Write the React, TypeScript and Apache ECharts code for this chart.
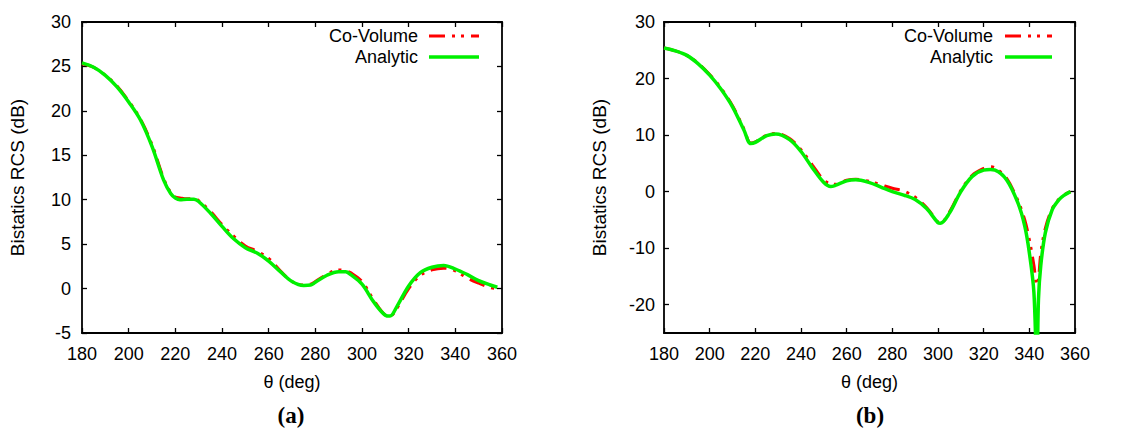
import React, { useEffect, useRef } from "react";
import * as echarts from "echarts";

// θ samples (deg)
const thetaA = [180, 185, 190, 195, 200, 205, 210, 215, 218, 220, 222, 225, 228, 230, 235, 240, 245, 250, 255, 260, 265, 270, 275, 278, 280, 285, 290, 293, 295, 300, 305, 310, 312, 315, 320, 325, 330, 335, 340, 345, 350, 355, 358];
const coVolumeA = [25.3, 24.9, 24.0, 22.8, 21.1, 19.1, 16.2, 12.4, 10.8, 10.3, 10.2, 10.1, 10.1, 9.9, 8.7, 7.2, 5.9, 4.8, 4.2, 3.4, 2.0, 0.8, 0.4, 0.5, 0.8, 1.6, 2.1, 2.0, 1.8, 0.8, -1.3, -3.0, -3.1, -2.2, 0.0, 1.5, 2.1, 2.3, 2.0, 1.2, 0.6, 0.1, 0.0];
const analyticA = [25.4, 24.9, 24.0, 22.7, 21.0, 19.0, 16.0, 12.2, 10.7, 10.2, 10.0, 10.05, 10.05, 9.8, 8.5, 7.0, 5.6, 4.6, 4.0, 3.1, 1.9, 0.8, 0.35, 0.4, 0.7, 1.5, 1.9, 1.9, 1.6, 0.5, -1.5, -3.0, -3.1, -2.0, 0.3, 1.8, 2.4, 2.6, 2.2, 1.6, 0.9, 0.4, 0.15];

const thetaB = [180, 185, 190, 195, 200, 205, 210, 215, 218, 220, 225, 229, 235, 240, 245, 250, 253, 255, 260, 264, 270, 275, 280, 285, 290, 295, 300, 301, 305, 310, 315, 320, 323, 325, 330, 335, 338, 340, 342, 343.3, 344, 345, 347, 350, 353, 355, 358];
const coVolumeB = [25.4, 24.9, 24.1, 22.7, 20.7, 18.3, 15.2, 11.1, 8.6, 8.8, 10.0, 10.3, 9.4, 7.4, 4.7, 2.0, 1.4, 1.3, 2.0, 2.2, 1.8, 1.2, 0.6, 0.1, -1.0, -2.8, -5.4, -5.6, -3.6, 0.2, 2.9, 4.1, 4.4, 4.2, 2.4, -1.6, -5.0, -8.5, -13.0, -16.5, -15.5, -11.0, -6.5, -3.0, -1.3, -0.6, 0.0];
const analyticB = [25.4, 24.9, 24.1, 22.6, 20.6, 18.1, 15.0, 10.9, 8.5, 8.7, 9.9, 10.2, 9.2, 7.1, 4.2, 1.6, 0.9, 1.1, 1.9, 2.1, 1.6, 0.8, 0.0, -0.6, -1.4, -3.0, -5.5, -5.6, -3.8, 0.0, 2.7, 3.8, 3.9, 3.8, 2.1, -2.0, -6.1, -10.8, -17.8, -32.0, -19.0, -13.1, -7.3, -3.2, -1.4, -0.7, 0.0];

const seriesNames = ["Co-Volume", "Analytic"];
const xTicks = [180, 200, 220, 240, 260, 280, 300, 320, 340, 360];
const yTicksA = [-5, 0, 5, 10, 15, 20, 25, 30];
const yTicksB = [-20, -10, 0, 10, 20, 30];
const xName = "θ (deg)";
const yName = "Bistatics RCS (dB)";
const panelLabels = ["(a)", "(b)"];

const FONT = "'Liberation Sans', Arial, sans-serif";
const RED = "#ff0000";
const GREEN = "#00f000";
const DASH = [16, 7, 3, 6, 3, 7];

const zip = (xs: number[], ys: number[]) => xs.map((x, i) => [x, ys[i]]);

export default function App() {
  const ref = useRef<HTMLDivElement>(null);
  useEffect(() => {
    if (!ref.current) return;
    const chart = echarts.init(ref.current, null, { renderer: "svg" });
    const grids = [
      { left: 82, top: 22, width: 420, height: 311 },
      { left: 664, top: 22, width: 411, height: 311 },
    ];
    const mkTick = (vals: number[]) => ({ show: true, inside: true, length: 5, lineStyle: { color: "#000", width: 1.3 }, customValues: vals });
    const mkLine = () => ({ show: true, onZero: false, lineStyle: { color: "#000", width: 1.8 } });
    const xAxes: any[] = [];
    const yAxes: any[] = [];
    grids.forEach((g, i) => {
      xAxes.push({
        type: "value", gridIndex: i, min: 180, max: 360, interval: 20, position: "bottom",
        axisLine: mkLine(), splitLine: { show: false },
        axisTick: mkTick(xTicks),
        axisLabel: { color: "#000", fontSize: 18, fontFamily: FONT, margin: 12, customValues: xTicks },
        name: xName, nameLocation: "middle", nameGap: 40,
        nameTextStyle: { color: "#000", fontSize: 18, fontFamily: FONT },
      });
      xAxes.push({
        type: "value", gridIndex: i, min: 180, max: 360, interval: 20, position: "top",
        axisLine: mkLine(), splitLine: { show: false },
        axisTick: mkTick(xTicks), axisLabel: { show: false },
      });
      const yt = i === 0 ? yTicksA : yTicksB;
      const ymin = i === 0 ? -5 : -25;
      yAxes.push({
        type: "value", gridIndex: i, min: ymin, max: 30, interval: 5, position: "left",
        axisLine: mkLine(), splitLine: { show: false },
        axisTick: mkTick(yt),
        axisLabel: { color: "#000", fontSize: 18, fontFamily: FONT, margin: i === 0 ? 11 : 9, customValues: yt },
        name: yName, nameLocation: "middle", nameGap: 55, nameRotate: 90,
        nameTextStyle: { color: "#000", fontSize: 19, fontFamily: FONT },
      });
      yAxes.push({
        type: "value", gridIndex: i, min: ymin, max: 30, interval: 5, position: "right",
        axisLine: mkLine(), splitLine: { show: false },
        axisTick: mkTick(yt), axisLabel: { show: false },
      });
    });
    const mk = (name: string, data: number[][], gi: number, red: boolean) => ({
      type: "line", name, data, xAxisIndex: gi * 2, yAxisIndex: gi * 2,
      showSymbol: false, smooth: 0.35, clip: true, z: red ? 2 : 3,
      lineStyle: red ? { color: RED, width: 3, type: DASH } : { color: GREEN, width: 3.5 },
    });
    const legend = (xr: number, lx1: number, lx2: number) => [
      { type: "text", x: xr, y: 36, style: { text: seriesNames[0], fill: "#000", font: `18px ${FONT}`, align: "right", verticalAlign: "middle" } },
      { type: "text", x: xr, y: 57, style: { text: seriesNames[1], fill: "#000", font: `18px ${FONT}`, align: "right", verticalAlign: "middle" } },
      { type: "line", shape: { x1: lx1, y1: 36, x2: lx2, y2: 36 }, style: { stroke: RED, lineWidth: 3, lineDash: DASH } },
      { type: "line", shape: { x1: lx1, y1: 57, x2: lx2, y2: 57 }, style: { stroke: GREEN, lineWidth: 3.5 } },
    ];
    const panelFont = `bold 23px 'Liberation Serif', 'Times New Roman', serif`;
    chart.setOption({
      animation: false,
      backgroundColor: "#fff",
      grid: grids,
      xAxis: xAxes,
      yAxis: yAxes,
      series: [
        mk(seriesNames[0], zip(thetaA, coVolumeA), 0, true),
        mk(seriesNames[1], zip(thetaA, analyticA), 0, false),
        mk(seriesNames[0], zip(thetaB, coVolumeB), 1, true),
        mk(seriesNames[1], zip(thetaB, analyticB), 1, false),
      ],
      graphic: [
        ...legend(418, 429, 479),
        ...legend(993, 1005, 1052),
        { type: "text", x: 291, y: 415, style: { text: panelLabels[0], fill: "#000", font: panelFont, align: "center", verticalAlign: "middle" } },
        { type: "text", x: 870, y: 415, style: { text: panelLabels[1], fill: "#000", font: panelFont, align: "center", verticalAlign: "middle" } },
      ],
    });
    return () => chart.dispose();
  }, []);
  return <div ref={ref} style={{ position: "absolute", left: 0, top: 0, width: 1143, height: 430 }} />;
}
